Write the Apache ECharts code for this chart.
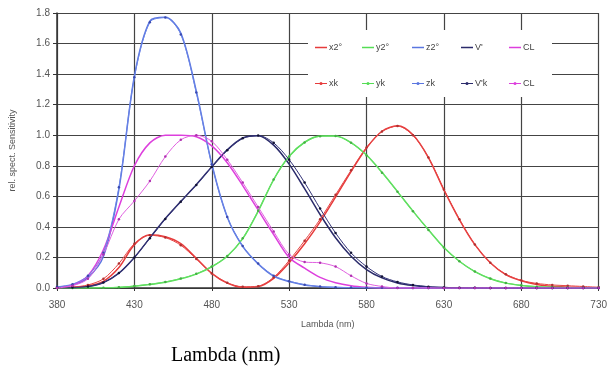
<!DOCTYPE html>
<html>
<head>
<meta charset="utf-8">
<script src="https://cdn.jsdelivr.net/npm/echarts@6/dist/echarts.min.js"></script>
<style>
  html, body { margin: 0; padding: 0; background: #fff; }
  #chart { width: 610px; height: 370px; }
</style>
</head>
<body>
<div id="chart"></div>
<script>
// wavelengths, nm
const lambda = [380, 390, 400, 410, 420, 430, 440, 450, 460, 470, 480, 490, 500, 510, 520, 530, 540, 550, 560, 570, 580, 590, 600, 610, 620, 630, 640, 650, 660, 670, 680, 690, 700, 710, 720, 730];

// 2 degree observer curves
const x2 = [0.001, 0.004, 0.014, 0.044, 0.134, 0.284, 0.348, 0.336, 0.291, 0.195, 0.096, 0.032, 0.005, 0.009, 0.063, 0.166, 0.290, 0.433, 0.595, 0.762, 0.916, 1.026, 1.062, 1.003, 0.854, 0.642, 0.448, 0.284, 0.165, 0.087, 0.047, 0.023, 0.011, 0.006, 0.003, 0.001];
const y2 = [0, 0, 0, 0.001, 0.004, 0.012, 0.023, 0.038, 0.060, 0.091, 0.139, 0.208, 0.323, 0.503, 0.710, 0.862, 0.954, 0.995, 0.995, 0.952, 0.870, 0.757, 0.631, 0.503, 0.381, 0.265, 0.175, 0.107, 0.061, 0.032, 0.017, 0.008, 0.004, 0.002, 0.001, 0.001];
const z2 = [0.006, 0.020, 0.068, 0.207, 0.646, 1.386, 1.747, 1.772, 1.669, 1.288, 0.813, 0.465, 0.272, 0.158, 0.078, 0.042, 0.020, 0.009, 0.004, 0.002, 0.002, 0.001, 0.001, 0, 0, 0, 0, 0, 0, 0, 0, 0, 0, 0, 0, 0];
const vs = [0.001, 0.002, 0.009, 0.035, 0.097, 0.200, 0.328, 0.455, 0.567, 0.676, 0.793, 0.904, 0.982, 0.997, 0.935, 0.811, 0.650, 0.481, 0.329, 0.208, 0.121, 0.066, 0.033, 0.016, 0.007, 0.003, 0.001, 0.001, 0, 0, 0, 0, 0, 0, 0, 0];
const cl = [0, 0.02, 0.08, 0.25, 0.53, 0.80, 0.95, 1.0, 1.0, 0.99, 0.93, 0.82, 0.67, 0.51, 0.35, 0.20, 0.13, 0.07, 0.035, 0.015, 0.005, 0, 0, 0, 0, 0, 0, 0, 0, 0, 0, 0, 0, 0, 0, 0];

// measured curves (k)
const xk = [0.002, 0.006, 0.020, 0.060, 0.160, 0.290, 0.345, 0.330, 0.280, 0.190, 0.095, 0.035, 0.008, 0.012, 0.070, 0.180, 0.310, 0.450, 0.610, 0.770, 0.920, 1.025, 1.060, 1.000, 0.855, 0.645, 0.450, 0.285, 0.165, 0.090, 0.050, 0.030, 0.020, 0.015, 0.010, 0.005];
const yk = [0, 0, 0.001, 0.002, 0.005, 0.013, 0.025, 0.040, 0.062, 0.093, 0.140, 0.210, 0.325, 0.505, 0.710, 0.860, 0.952, 0.993, 0.995, 0.950, 0.868, 0.755, 0.630, 0.502, 0.380, 0.265, 0.175, 0.108, 0.062, 0.033, 0.018, 0.009, 0.005, 0.003, 0.002, 0.001];
const zk = [0.008, 0.025, 0.080, 0.230, 0.660, 1.380, 1.740, 1.770, 1.660, 1.280, 0.810, 0.465, 0.275, 0.160, 0.080, 0.045, 0.022, 0.010, 0.005, 0.003, 0.002, 0.001, 0.001, 0, 0, 0, 0, 0, 0, 0, 0, 0, 0, 0, 0, 0];
const vk = [0.001, 0.003, 0.010, 0.036, 0.098, 0.200, 0.326, 0.452, 0.565, 0.675, 0.792, 0.902, 0.980, 0.998, 0.950, 0.840, 0.690, 0.520, 0.360, 0.230, 0.140, 0.075, 0.040, 0.020, 0.009, 0.004, 0.002, 0.001, 0, 0, 0, 0, 0, 0, 0, 0];
const clk = [0, 0.015, 0.06, 0.22, 0.45, 0.57, 0.70, 0.86, 0.97, 1.0, 0.96, 0.84, 0.69, 0.53, 0.37, 0.22, 0.17, 0.165, 0.14, 0.08, 0.03, 0.01, 0, 0, 0, 0, 0, 0, 0, 0, 0, 0, 0, 0, 0, 0];

const xTicks = [380, 430, 480, 530, 580, 630, 680, 730];

let chartDom = document.getElementById("chart");
let myChart = echarts.init(chartDom);
let option;

const pairs = (vals) => lambda.map((l, i) => [l, vals[i]]);

const plain = (name, vals, color) => ({
  name: name,
  type: "line",
  data: pairs(vals),
  smooth: 0.3,
  symbol: "none",
  lineStyle: { color: color, width: 1.5 },
  itemStyle: { color: color },
  z: 3,
});

const dotted = (name, vals, color, dot) => ({
  name: name,
  type: "line",
  data: pairs(vals),
  smooth: 0.3,
  symbol: "circle",
  symbolSize: 2.5,
  lineStyle: { color: color, width: 1 },
  itemStyle: { color: dot, borderWidth: 0 },
  z: 4,
});

// legend icons: bare line / line with a dot
const lineIcon = "path://M0,0H12V1.5H0Z";
const dotIcon = "path://M0,2.4H12V3.6H0Z M6,1.5A1.5,1.5 0 1,1 6,4.5A1.5,1.5 0 1,1 6,1.5Z";

const legendCols = [
  ["x2°", "xk"],
  ["y2°", "yk"],
  ["z2°", "zk"],
  ["V'", "V'k"],
  ["CL", "CLk"],
];
const legendColors = ["#e63b3b", "#55dd55", "#5a76e0", "#2b2b6b", "#dd3fdd"];
const legendLeft = [315, 362, 412, 461, 509];

option = {
  backgroundColor: "#fff",
  animation: false,
  title: {
    text: "Lambda (nm)",
    left: 171,
    top: 346,
    padding: 0,
    textStyle: {
      fontFamily: "Liberation Serif",
      fontSize: 20,
      fontWeight: "normal",
      color: "#000",
    },
  },
  grid: {
    left: 56,
    right: 8,
    top: 13,
    bottom: 82,
  },
  graphic: [
    {
      type: "rect",
      left: 308,
      top: 30,
      shape: { width: 244, height: 67 },
      style: { fill: "#fff" },
      z: 50,
    },
  ],
  legend: legendCols.map((col, i) => ({
    data: [
      { name: col[0], icon: lineIcon, itemStyle: { color: legendColors[i] } },
      { name: col[1], icon: dotIcon, itemStyle: { color: legendColors[i] } },
    ],
    orient: "vertical",
    left: legendLeft[i],
    top: 43,
    padding: 0,
    itemGap: 27,
    itemWidth: 12,
    itemHeight: 6,
    selectedMode: false,
    z: 60,
    textStyle: { fontSize: 9, color: "#444", fontFamily: "Arial", padding: [0, 0, 0, -3] },
    formatter: (name) => (name === "CLk" ? "CL" : name),
  })),
  xAxis: {
    type: "value",
    min: 380,
    max: 730,
    interval: 50,
    name: "Lambda (nm)",
    nameLocation: "middle",
    nameGap: 32,
    nameTextStyle: { fontSize: 9, color: "#555", fontFamily: "Arial" },
    axisLine: { show: true, lineStyle: { color: "#333", width: 1.5 } },
    axisTick: { show: true, length: 3, lineStyle: { color: "#333" } },
    axisLabel: {
      color: "#555",
      fontSize: 10,
      fontFamily: "Arial",
      margin: 12,
      formatter: (v) => (xTicks.indexOf(v) >= 0 ? String(v) : ""),
    },
    splitLine: { show: true, lineStyle: { color: "#444", width: 1.2 } },
  },
  yAxis: {
    type: "value",
    min: 0,
    max: 1.8,
    interval: 0.2,
    name: "rel. spect. Sensitivity",
    nameLocation: "middle",
    nameGap: 40,
    nameTextStyle: { fontSize: 9, color: "#555", fontFamily: "Arial" },
    axisLine: { show: true, lineStyle: { color: "#333", width: 1.5 } },
    axisTick: { show: true, length: 4, lineStyle: { color: "#333" } },
    axisLabel: {
      color: "#555",
      fontSize: 10,
      fontFamily: "Arial",
      margin: 7,
      formatter: (v) => v.toFixed(1),
    },
    splitLine: { show: true, lineStyle: { color: "#444", width: 1.2 } },
  },
  series: [
    plain("x2°", x2, "#e63b3b"),
    plain("y2°", y2, "#55dd55"),
    plain("z2°", z2, "#5a76e0"),
    plain("V'", vs, "#2b2b6b"),
    plain("CL", cl, "#dd3fdd"),
    dotted("xk", xk, "#e64545", "#b03030"),
    dotted("yk", yk, "#66e066", "#44b044"),
    dotted("zk", zk, "#6a84e6", "#3a4ab0"),
    dotted("V'k", vk, "#333377", "#111133"),
    dotted("CLk", clk, "#e060e0", "#b030b0"),
  ],
};

myChart.setOption(option);
</script>
</body>
</html>
